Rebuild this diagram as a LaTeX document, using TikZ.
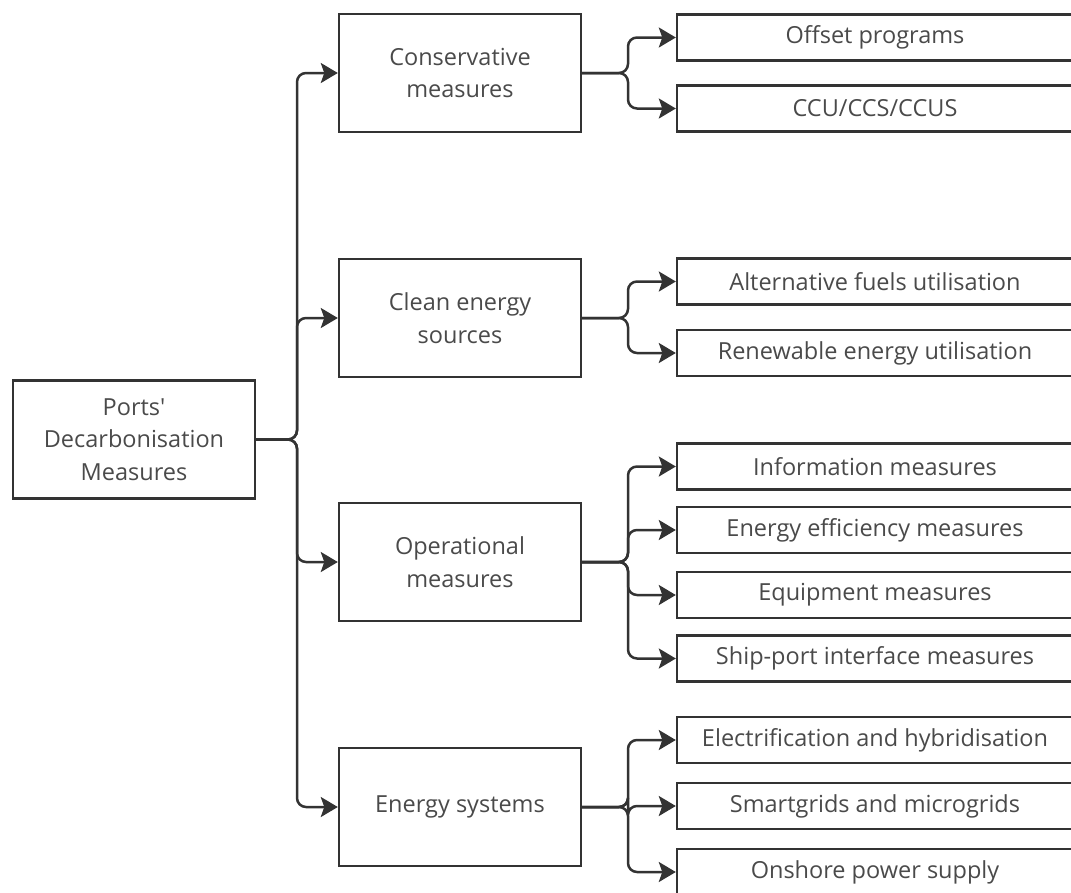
\documentclass[tikz,border=0pt]{standalone}
\usepackage{fontspec}
\setmainfont{Open Sans}
\usetikzlibrary{arrows.meta}
\definecolor{edge}{HTML}{333333}
\definecolor{ink}{HTML}{4A4A4A}
\begin{document}
\begin{tikzpicture}[x=1pt,y=-1pt,
  box/.style={draw=edge, line width=2.4pt, fill=white, text=ink, align=center,
              inner sep=0pt, font=\fontsize{23.5}{32.5}\selectfont},
  bigbox/.style={box, minimum width=242pt, minimum height=118pt},
  leafbox/.style={box, minimum width=396pt, minimum height=46pt},
  stem/.style={draw=edge, line width=2.5pt, rounded corners=9pt},
  link/.style={stem, -{Stealth[length=17pt,width=20pt,inset=3.5pt]}}
]
\useasboundingbox (0,0) rectangle (1071,892);
\clip (0,0) rectangle (1071,892);

% root
\node[bigbox] (root) at (134,439.5) {Ports\textquotesingle\\Decarbonisation\\Measures};

% categories
\node[bigbox] (cons) at (460,73)  {Conservative\\measures};
\node[bigbox] (clean) at (460,318) {Clean energy\\sources};
\node[bigbox] (oper) at (460,562) {Operational\\measures};
\node[bigbox] (esys) at (460,807) {Energy systems};

% measures
\node[leafbox] (offset) at (875,37.5) {Offset programs};
\node[leafbox] (ccu) at (875,108.5) {CCU/CCS/CCUS};
\node[leafbox] (alt) at (875,281.5) {Alternative fuels utilisation};
\node[leafbox] (renew) at (875,353) {Renewable energy utilisation};
\node[leafbox] (info) at (875,466.5) {Information measures};
\node[leafbox] (eff) at (875,530) {Energy efficiency measures};
\node[leafbox] (equip) at (875,595) {Equipment measures};
\node[leafbox] (ship) at (875,658.5) {Ship-port interface measures};
\node[leafbox] (elec) at (875,740) {Electrification and hybridisation};
\node[leafbox] (smart) at (875,806) {Smartgrids and microgrids};
\node[leafbox] (ops) at (875,872) {Onshore power supply};

% branching points
\coordinate (rj) at (297,439.5);
\coordinate (cj) at (628,73);
\coordinate (lj) at (628,318);
\coordinate (oj) at (628,562);
\coordinate (ej) at (628,807);

% root to categories
\foreach \m in {cons,clean,oper,esys}
  \draw[link] (root.east) -- (rj) |- (\m.west);

% categories to measures
\foreach \l in {offset,ccu}
  \draw[link] (cons.east) -- (cj) |- (\l.west);
\foreach \l in {alt,renew}
  \draw[link] (clean.east) -- (lj) |- (\l.west);
\foreach \l in {info,eff,equip,ship}
  \draw[link] (oper.east) -- (oj) |- (\l.west);
\foreach \l in {elec,smart,ops}
  \draw[link] (esys.east) -- (ej) |- (\l.west);
\end{tikzpicture}
\end{document}
